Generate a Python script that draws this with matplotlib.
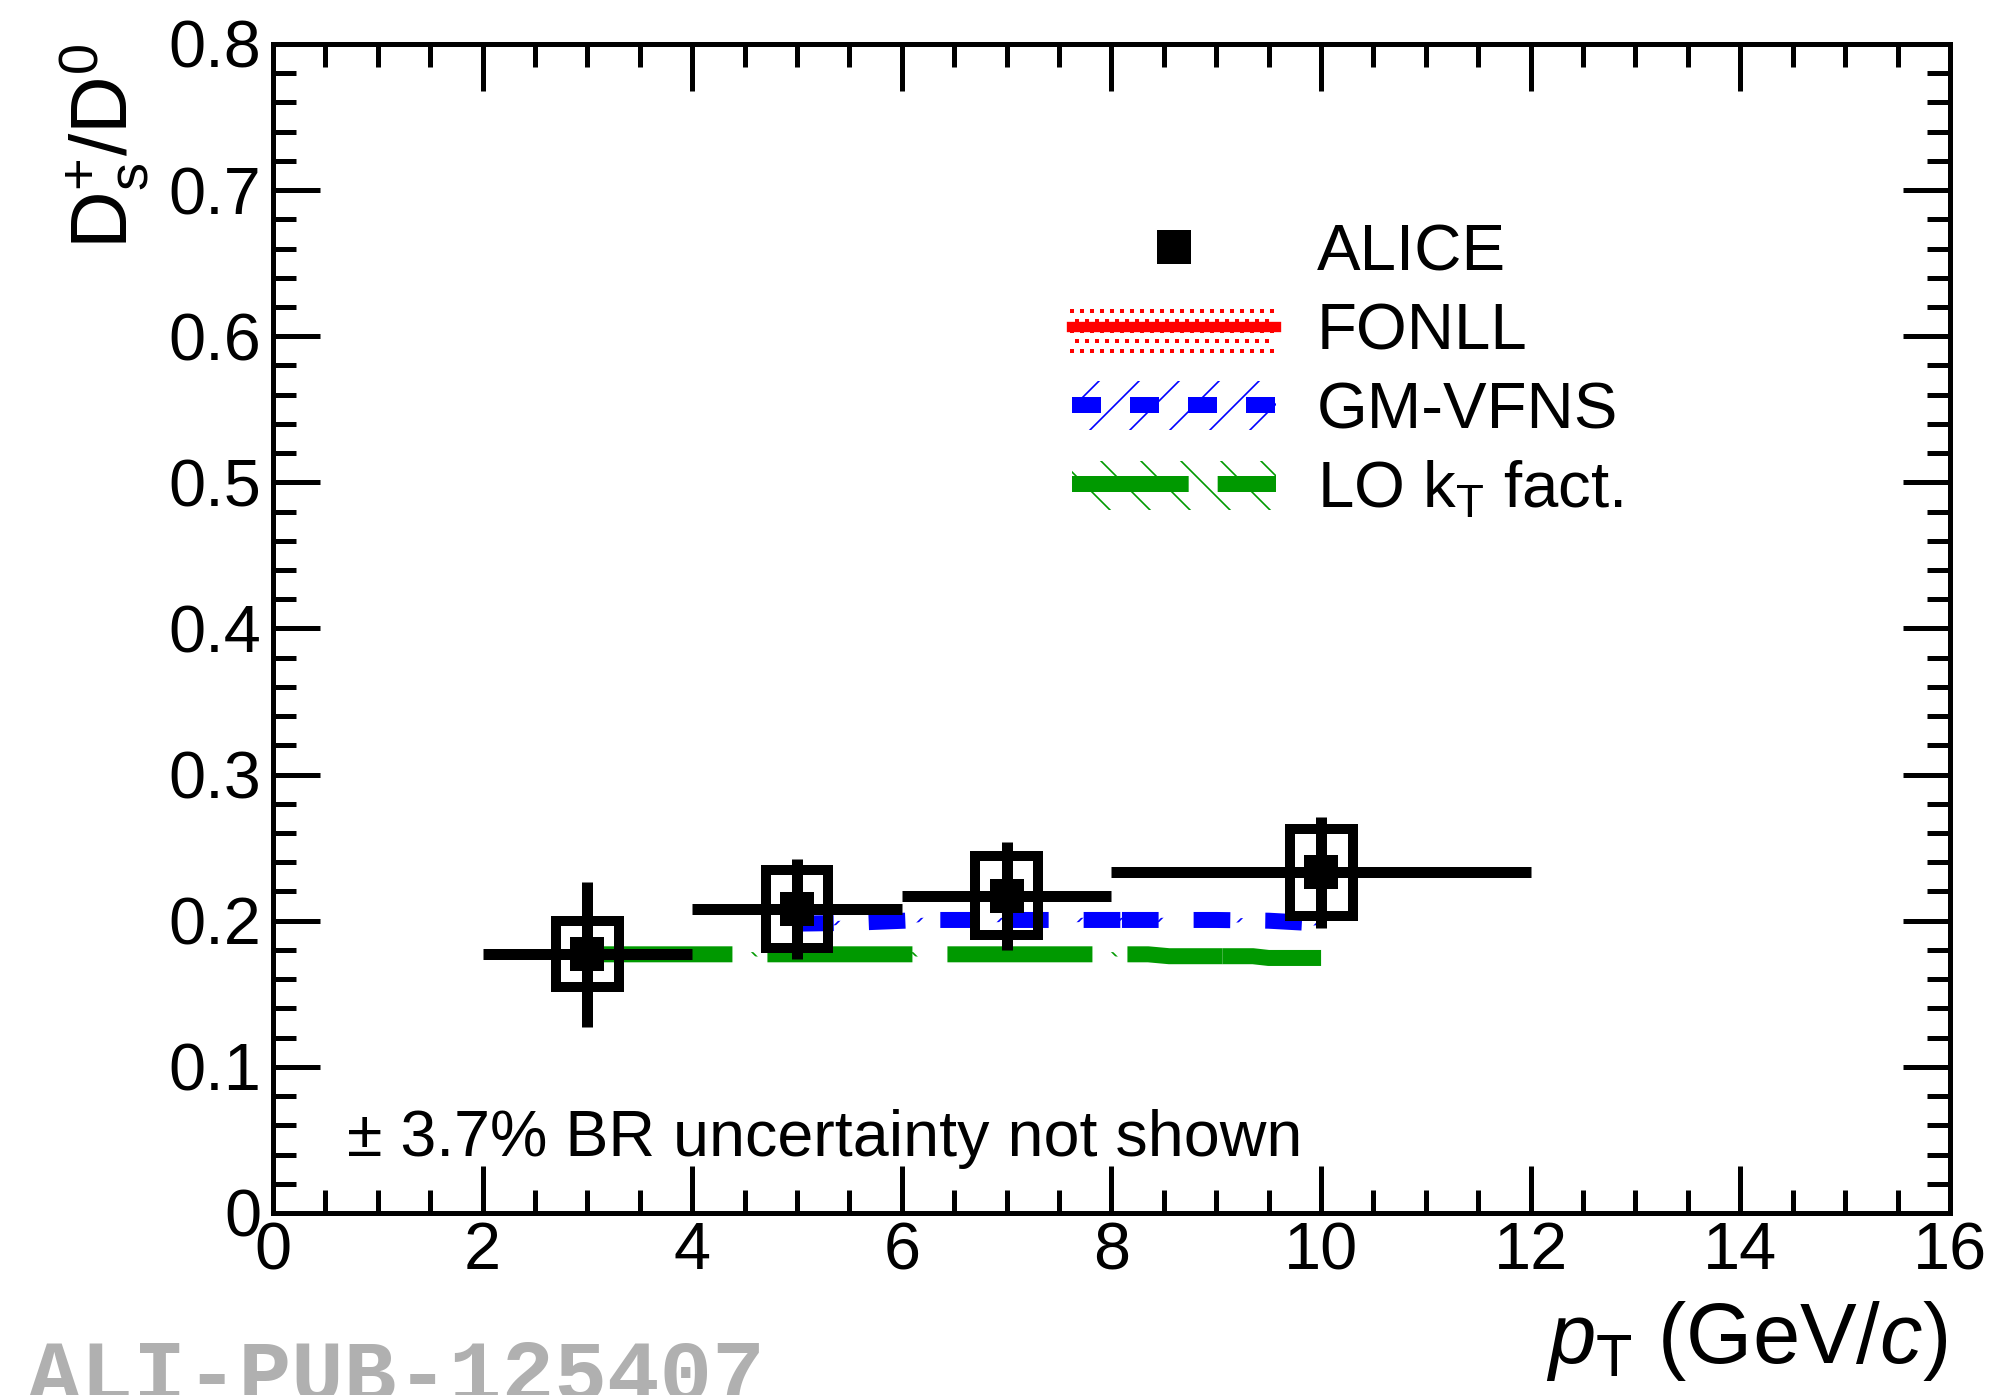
import numpy as np
import matplotlib
matplotlib.use("Agg")
import matplotlib.pyplot as plt
from matplotlib.patches import Rectangle, Patch
from matplotlib.lines import Line2D
from matplotlib.legend_handler import HandlerBase

plt.rcParams["font.family"] = ["Liberation Sans", "DejaVu Sans"]
plt.rcParams["mathtext.fontset"] = "custom"
plt.rcParams["mathtext.rm"] = "Liberation Sans"
plt.rcParams["mathtext.it"] = "Liberation Sans:italic"
plt.rcParams["mathtext.sf"] = "Liberation Sans"
plt.rcParams["hatch.linewidth"] = 0.5
plt.rcParams["lines.scale_dashes"] = False

# ALICE Ds+/D0 ratio
pt = np.array([3.0, 5.0, 7.0, 10.0])
pt_lo = np.array([2.0, 4.0, 6.0, 8.0])
pt_hi = np.array([4.0, 6.0, 8.0, 12.0])
ratio = np.array([0.177, 0.208, 0.217, 0.233])
stat = np.array([0.0495, 0.034, 0.037, 0.038])
syst = np.array([0.0225, 0.027, 0.027, 0.030])
box_hw = 0.3

# GM-VFNS (drawn in two pieces, split at index 4)
gm_pt = np.array([5.0, 5.5, 6.2, 7.0, 8.1, 9.0, 9.5, 10.0])
gm_ratio = np.array([0.198, 0.1985, 0.2005, 0.2005, 0.2005, 0.2005, 0.200, 0.198])
gm_lo = gm_ratio - 0.0015
gm_hi = gm_ratio + 0.0015
gm_split = 4

# LO kT factorisation (two pieces, split at index 8)
lo_pt = np.array([3.0, 4.0, 5.0, 6.0, 7.0, 8.0, 8.35, 8.55, 9.06, 9.35, 9.5, 10.0])
lo_ratio = np.array([0.177, 0.177, 0.177, 0.177, 0.177, 0.177, 0.177, 0.1757, 0.1757, 0.1757, 0.1745, 0.1745])
lo_lo = lo_ratio - 0.0015
lo_hi = lo_ratio + 0.0015
lo_split = 8

green = "#009900"


class DottedBandHandler(HandlerBase):
    # red dotted band + central line, like the ROOT fill style
    def create_artists(self, legend, orig_handle, xdescent, ydescent, width, height, fontsize, trans):
        step = 3.0
        xs, ys = [], []
        nrow = int(height // step) + 1
        for i in range(nrow):
            y = -ydescent + i * step
            off = 0 if i % 2 == 0 else step / 2
            for x in np.arange(-xdescent + off, -xdescent + width, step):
                xs.append(x)
                ys.append(y)
        dots = Line2D(xs, ys, ls="none", marker="s", ms=1.2, mew=0, color="red", transform=trans)
        line = Line2D([-xdescent, -xdescent + width], [-ydescent + height / 2] * 2,
                      color="red", lw=3.1, transform=trans)
        return [dots, line]


fig = plt.figure(figsize=(2003 / 240, 1395 / 240), dpi=240)
ax = fig.add_axes([0.1363, 0.1305, 0.9735 - 0.1363, 0.9685 - 0.1305])

# theory bands + lines
ax.fill_between(gm_pt, gm_lo, gm_hi, facecolor="none", edgecolor="blue", hatch="//", lw=0, zorder=1)
ax.fill_between(lo_pt, lo_lo, lo_hi, facecolor="none", edgecolor=green, hatch="\\\\", lw=0, zorder=1)
for sl in (slice(0, gm_split + 1), slice(gm_split, None)):
    ax.plot(gm_pt[sl], gm_ratio[sl], color="blue", lw=4.8, dashes=(11, 10.5), zorder=2)
for sl in (slice(0, lo_split + 1), slice(lo_split, None)):
    ax.plot(lo_pt[sl], lo_ratio[sl], color=green, lw=4.8, dashes=(43.5, 10.5), zorder=2)

# data
for x, y, s in zip(pt, ratio, syst):
    ax.add_patch(Rectangle((x - box_hw, y - s), 2 * box_hw, 2 * s, fill=False,
                           edgecolor="black", lw=3.0, zorder=4))
ax.errorbar(pt, ratio, yerr=stat, xerr=[pt - pt_lo, pt_hi - pt], fmt="s", color="black",
            ms=10.2, mew=0, elinewidth=3.3, capsize=0, zorder=5)

ax.set_xlim(0, 16)
ax.set_ylim(0, 0.8)
ax.set_xticks(np.arange(0, 17, 2))
ax.set_xticklabels([str(v) for v in range(0, 17, 2)])
ax.set_xticks(np.arange(0, 16.01, 0.5), minor=True)
ax.set_yticks(np.arange(0, 0.81, 0.1))
ax.set_yticklabels(["0", "0.1", "0.2", "0.3", "0.4", "0.5", "0.6", "0.7", "0.8"])
ax.set_yticks(np.arange(0, 0.801, 0.02), minor=True)
ax.tick_params(which="both", direction="in", top=True, right=True, width=1.5, labelsize=20)
ax.tick_params(which="major", length=14)
ax.tick_params(which="minor", length=6.8)
ax.tick_params(axis="x", which="major", pad=2.5)
ax.tick_params(axis="y", which="major", pad=3.5)
for sp in ax.spines.values():
    sp.set_linewidth(1.5)

ax.set_xlabel(r"$p_{\mathrm{T}}$ (GeV/$c$)", fontsize=25.5, loc="right")
ax.xaxis.set_label_coords(0.9985, -0.074)
ax.set_ylabel(r"D$_{\mathrm{s}}^{+}$/D$^{0}$", fontsize=24, loc="top")
ax.yaxis.set_label_coords(-0.0725, 1.0)

ax.text(0.71, 0.039, "\u00b1 3.7% BR uncertainty not shown", fontsize=19.4, va="baseline")

fonll_handle = Patch(facecolor="none", edgecolor="red")
handles = [
    Line2D([], [], marker="s", ls="none", color="black", ms=10, mew=0),
    fonll_handle,
    (Patch(facecolor="none", edgecolor="blue", hatch="//", lw=0),
     Line2D([], [], color="blue", lw=4.8, dashes=(8.7, 8.7))),
    (Patch(facecolor="none", edgecolor=green, hatch="\\\\", lw=0),
     Line2D([], [], color=green, lw=4.8, dashes=(35, 8.7))),
]
labels = ["ALICE", "FONLL", "GM-VFNS", r"LO k$_{\mathrm{T}}$ fact."]
ax.legend(handles, labels, loc="upper left", bbox_to_anchor=(0.4765, 0.8466), frameon=False,
          fontsize=19.6, handlelength=3.12, handleheight=0.78, handletextpad=0.63,
          labelspacing=0.283, borderpad=0, borderaxespad=0,
          handler_map={fonll_handle: DottedBandHandler()})

fig.text(0.014, -0.004, "ALI-PUB-125407", fontsize=26.3, color="#b0b0b0",
         family="Liberation Mono", weight="bold", va="baseline")

fig.savefig("out.png", dpi=240)
